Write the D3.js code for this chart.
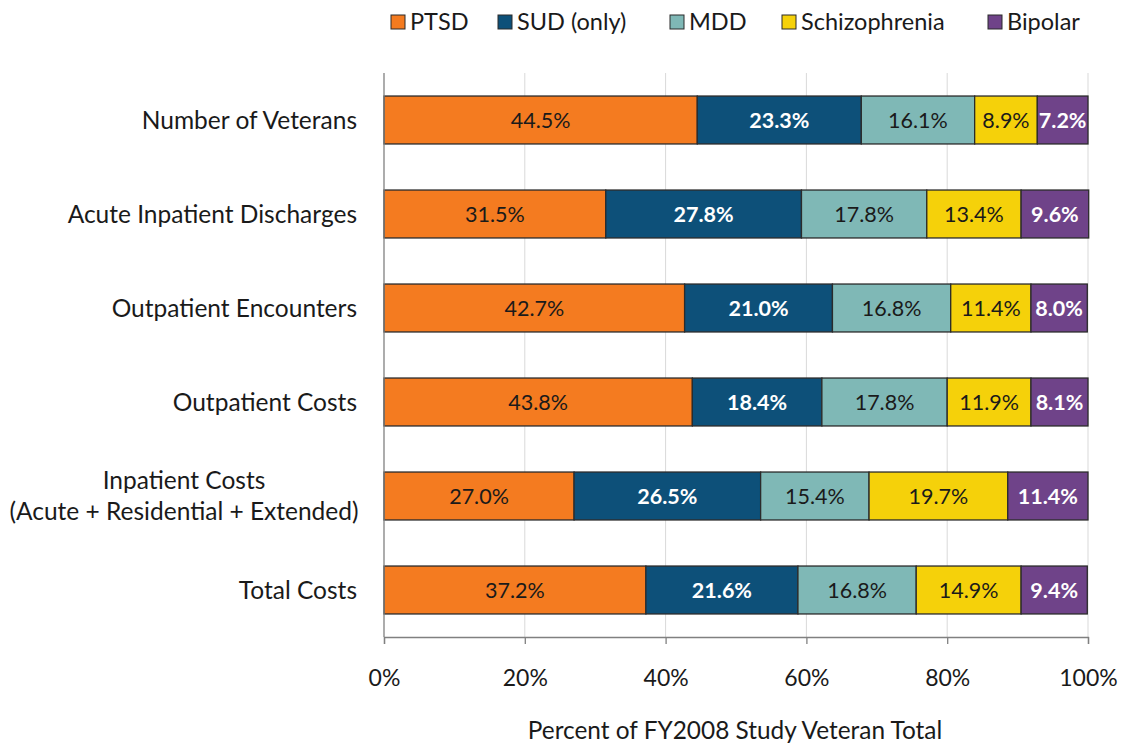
<!DOCTYPE html>
<html>
<head>
<meta charset="utf-8">
<script src="https://cdn.jsdelivr.net/npm/d3@7"></script>
<style>
  body { margin: 0; background: #fff; }
  svg text { font-family: Lato, "Open Sans", sans-serif; }
</style>
</head>
<body>
<svg id="chart" width="1122" height="746"></svg>
<script>
// categories, top to bottom
var categories = [
    "Number of Veterans",
    "Acute Inpatient Discharges",
    "Outpatient Encounters",
    "Outpatient Costs",
    "Inpatient Costs\n(Acute + Residential + Extended)",
    "Total Costs"
];
var seriesNames = ["PTSD", "SUD (only)", "MDD", "Schizophrenia", "Bipolar"];
var seriesColors = ["#F47B20", "#0D5079", "#7FB8B6", "#F5D10A", "#6F4389"];
var labelColors = ["#1a1a1a", "#fff", "#1a1a1a", "#1a1a1a", "#fff"];

// percentages per series, in category order
var ptsd = [44.5, 31.5, 42.7, 43.8, 27.0, 37.2];
var sud = [23.3, 27.8, 21.0, 18.4, 26.5, 21.6];
var mdd = [16.1, 17.8, 16.8, 17.8, 15.4, 16.8];
var schizo = [8.9, 13.4, 11.4, 11.9, 19.7, 14.9];
var bipolar = [7.2, 9.6, 8.0, 8.1, 11.4, 9.4];
var xTicks = [0, 20, 40, 60, 80, 100];

var series = [ptsd, sud, mdd, schizo, bipolar];

var svg = d3.select("#chart");
var plotLeft = 384, plotRight = 1088, plotTop = 73, plotBottom = 637;

var x = d3.scaleLinear().domain([0, 100]).range([plotLeft, plotRight]);
var y = d3.scaleBand().domain(categories).range([plotTop, plotBottom]).paddingInner(0.49).paddingOuter(0.245);

// gridlines
svg.append("g").selectAll("line")
    .data(xTicks.slice(1))
    .enter().append("line")
    .attr("x1", function(d) { return x(d); })
    .attr("x2", function(d) { return x(d); })
    .attr("y1", plotTop)
    .attr("y2", plotBottom)
    .attr("stroke", "#d9d9d9")
    .attr("stroke-width", 1);

// stacked bars
categories.forEach(function(cat, i) {
    var start = 0;
    series.forEach(function(s, j) {
        var v = s[i];
        var g = svg.append("g");
        g.append("rect")
            .attr("x", x(start))
            .attr("y", y(cat))
            .attr("width", x(start + v) - x(start))
            .attr("height", y.bandwidth())
            .attr("fill", seriesColors[j])
            .attr("stroke", "#2b2b2b")
            .attr("stroke-width", 1.3);
        g.append("text")
            .attr("x", (x(start) + x(start + v)) / 2)
            .attr("y", y(cat) + y.bandwidth() / 2)
            .attr("dy", "0.35em")
            .attr("text-anchor", "middle")
            .attr("font-size", 21.5)
            .attr("font-weight", labelColors[j] === "#fff" ? "bold" : "normal")
            .attr("fill", labelColors[j])
            .text(v.toFixed(1) + "%");
        start += v;
    });
});

// category labels
categories.forEach(function(cat) {
    var lines = cat.split("\n");
    var cy = y(cat) + y.bandwidth() / 2;
    var t = svg.append("text")
        .attr("text-anchor", "middle")
        .attr("font-size", 24.5)
        .attr("fill", "#1a1a1a");
    lines.forEach(function(l, k) {
        t.append("tspan")
            .attr("x", lines.length > 1 ? 184 : 357)
            .attr("y", cy + (k - (lines.length - 1) / 2) * 31)
            .attr("dy", "0.35em")
            .text(l);
    });
    if (lines.length === 1) t.attr("text-anchor", "end");
});

// left axis line
svg.append("line")
    .attr("x1", plotLeft).attr("x2", plotLeft)
    .attr("y1", plotTop).attr("y2", plotBottom)
    .attr("stroke", "#808080").attr("stroke-width", 1.3);

// x axis
var xAxis = d3.axisBottom(x)
    .tickValues(xTicks)
    .tickSize(7)
    .tickFormat(function(d) { return d + "%"; });
var ax = svg.append("g")
    .attr("transform", "translate(0," + plotBottom + ")")
    .call(xAxis);
ax.select(".domain").attr("stroke", "#808080").attr("stroke-width", 1.3);
ax.selectAll(".tick line").attr("stroke", "#808080").attr("stroke-width", 1.3);
ax.selectAll(".tick text")
    .attr("font-family", "Lato, 'Open Sans', sans-serif")
    .attr("font-size", 23)
    .attr("fill", "#1a1a1a")
    .attr("y", 33);

svg.append("text")
    .attr("x", 735)
    .attr("y", 739)
    .attr("text-anchor", "middle")
    .attr("font-size", 24.4)
    .attr("fill", "#1a1a1a")
    .text("Percent of FY2008 Study Veteran Total");

// legend
var legendX = [391, 498, 670, 782, 988];
var legend = svg.append("g");
seriesNames.forEach(function(n, j) {
    legend.append("rect")
        .attr("x", legendX[j])
        .attr("y", 15)
        .attr("width", 14)
        .attr("height", 14)
        .attr("fill", seriesColors[j])
        .attr("stroke", "#2b2b2b")
        .attr("stroke-width", 1);
    legend.append("text")
        .attr("x", legendX[j] + 19)
        .attr("y", 22)
        .attr("dy", "0.35em")
        .attr("font-size", 23.5)
        .attr("fill", "#1a1a1a")
        .text(n);
});
</script>
</body>
</html>
